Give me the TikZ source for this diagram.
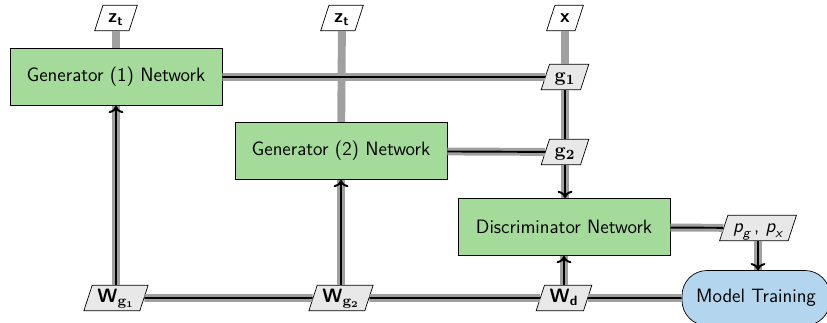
\documentclass[tikz,border=0pt]{standalone}
\usepackage{amsmath,amssymb}
\usepackage{tikz}
\usepackage{xcolor}
\usetikzlibrary{arrows.meta,shapes.geometric}
\definecolor{netgreen}{RGB}{164,218,154}
\definecolor{trainblue}{RGB}{180,213,238}
\definecolor{boxgray}{RGB}{232,232,232}
\definecolor{wiregray}{RGB}{160,160,160}
\newcommand{\bsf}[1]{\textsf{\bfseries #1}}

\begin{document}
\begin{tikzpicture}[x=0.02cm, y=-0.02cm, >=To,
    every node/.style={font=\fontsize{11}{13}\selectfont\sffamily},
    net/.style={draw, fill=netgreen, minimum width=4.24cm, minimum height=1.15cm},
    var/.style={draw, trapezium, trapezium left angle=72, trapezium right angle=108, fill=boxgray, text height=9pt, text depth=3.5pt, inner xsep=3pt, inner ysep=1pt},
    train/.style={draw, fill=trainblue, rounded corners=0.5cm, minimum width=2.96cm, minimum height=1.1cm},
    feed/.style={wiregray, line width=4.5pt},
    wire/.style={preaction={draw, wiregray, line width=4.5pt, -}, draw, line width=1.1pt}]
    \useasboundingbox (0,0) rectangle (827,323);
    % Networks and variables
    \node[var, fill=white] (zt1) at (116,18) {\bsf{z}$_{\bsf{t}}$};
    \node[var, fill=white] (zt2) at (342,18) {\bsf{z}$_{\bsf{t}}$};
    \node[var, fill=white] (xin) at (565,18) {\bsf{x}};
    \node[net] (gen1) at (116,77) {Generator (1) Network};
    \node[var] (g1) at (565,77) {$\mathbf{g_1}$};
    \node[net] (gen2) at (341,151) {Generator (2) Network};
    \node[var] (g2) at (565,152) {$\mathbf{g_2}$};
    \node[net] (disc) at (564,227) {Discriminator Network};
    \node[var] (pout) at (758,228) {$\textit{p}_{\textit{g}}$\,, $\textit{p}_{\textit{x}}$};
    \node[train] (train) at (756,298) {Model Training};
    \node[var] (wd) at (564,298) {\bsf{W}$_{\bsf{d}}$};
    \node[var] (wg2) at (341,298) {\bsf{W}$_{\mathbf{g_2}}$};
    \node[var] (wg1) at (116,298) {\bsf{W}$_{\mathbf{g_1}}$};
    % Inputs
    \draw[feed] (zt1) -- (gen1);
    \draw[feed] (zt2) -- (gen2);
    \draw[feed] (xin) -- (g1);
    % Forward pass
    \draw[wire] (gen1) -- (g1);
    \draw[wire] (g1) -- (g2);
    \draw[wire] (gen2) -- (g2);
    \draw[wire, ->] (g2.south) -- (g2.south |- disc.north);
    \draw[wire] (disc) -- (pout);
    \draw[wire, ->] (pout.south) -- (pout.south |- train.north);
    % Weight updates
    \draw[wire] (train) -- (wd);
    \draw[wire] (wd) -- (wg2);
    \draw[wire] (wg2) -- (wg1);
    \draw[wire, ->] (wg1) -- (gen1);
    \draw[wire, ->] (wg2) -- (gen2);
    \draw[wire, ->] (wd) -- (disc);
\end{tikzpicture}
\end{document}
